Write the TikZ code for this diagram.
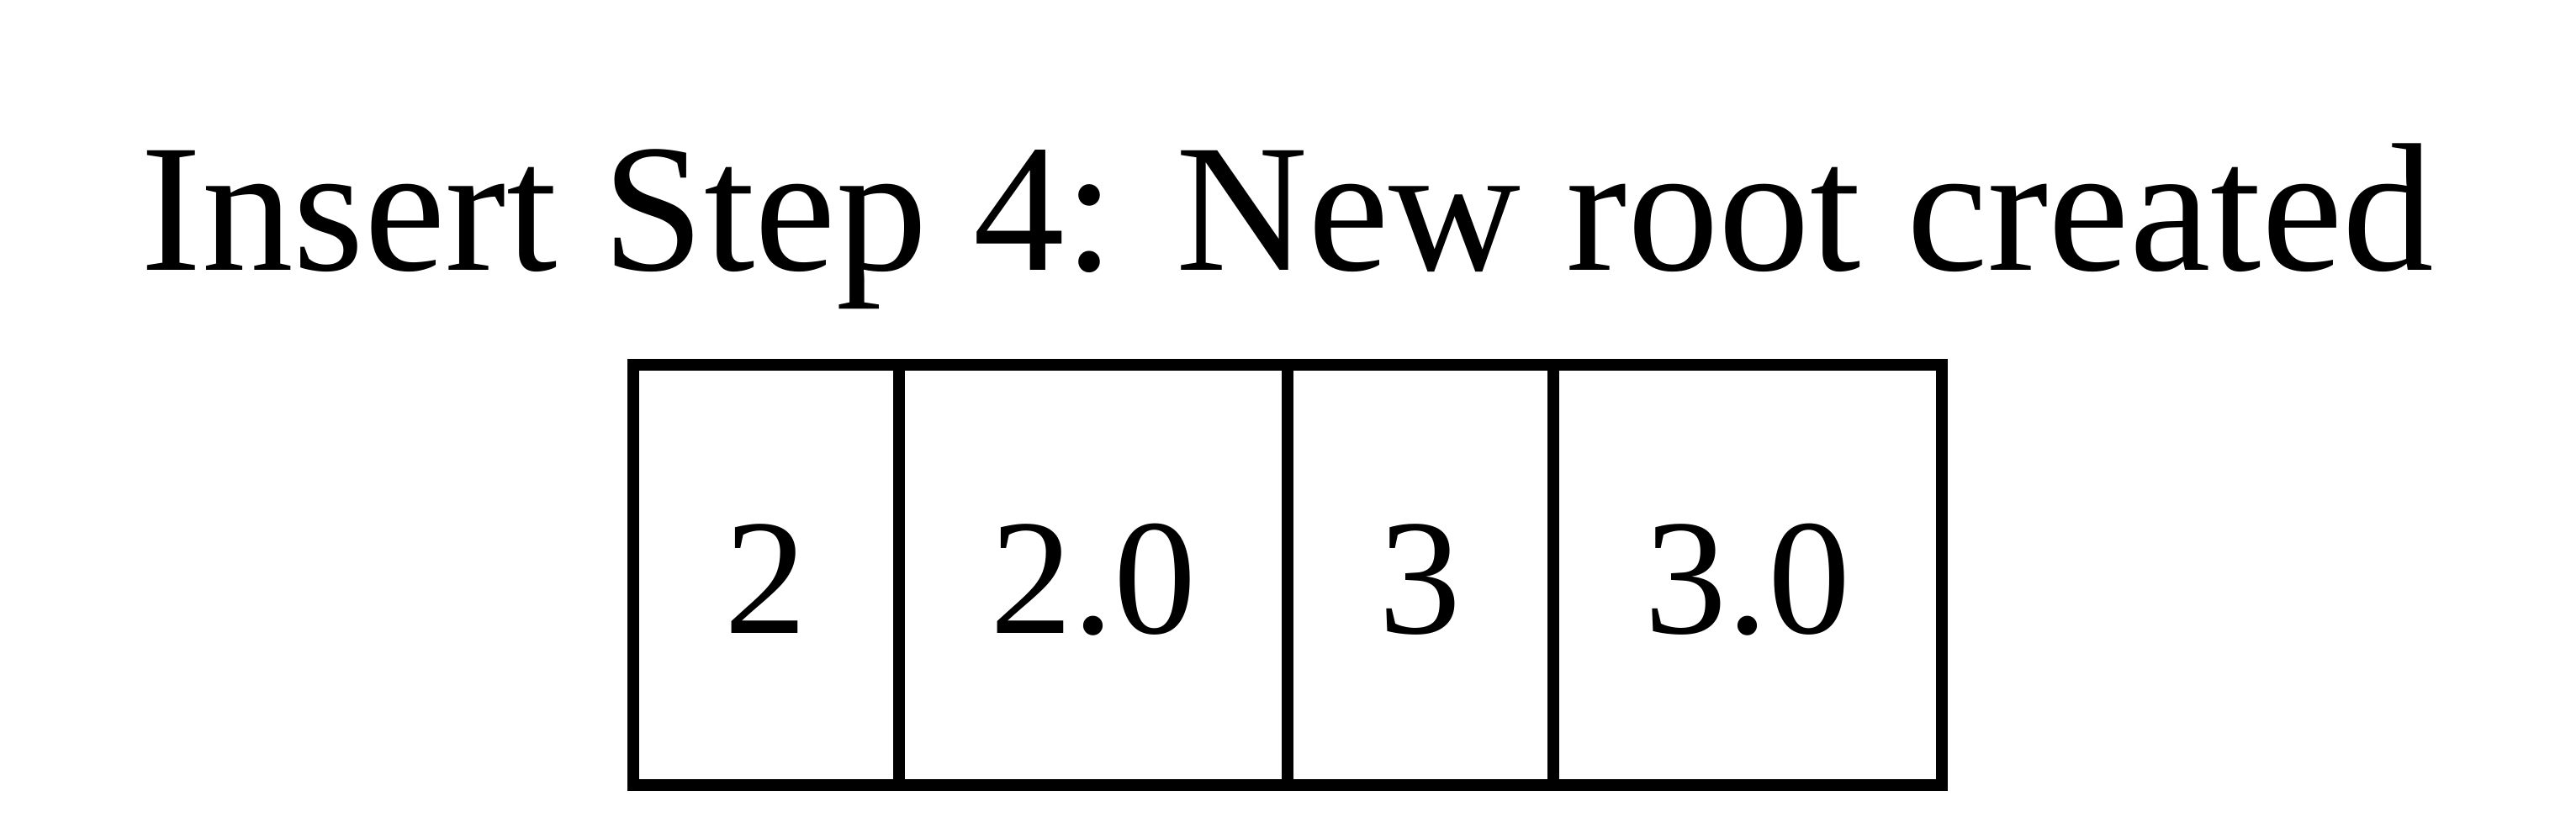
\documentclass[tikz,border=0pt]{standalone}
\usepackage{fontspec}
\setmainfont{Liberation Serif}
\begin{document}
\begin{tikzpicture}[
  cell/.style={draw=black, line width=4pt, rectangle, inner sep=0pt, outer sep=0pt,
    minimum height=5cm, text height=1.4cm, text depth=0cm,
    font=\fontsize{55.8}{60}\selectfont},
  titletext/.style={anchor=base, inner sep=0pt, font=\fontsize{61.8}{70}\selectfont}
]
\useasboundingbox (0,0) rectangle (30.63,9.97);
\node[titletext] (title) at (15.31,6.753) {Insert Step 4: New root created};
\node[cell, minimum width=3.16cm] (c1) at (9.11,3.13) {2};
\node[cell, minimum width=4.62cm] (c2) at (13.00,3.13) {2.0};
\node[cell, minimum width=3.16cm] (c3) at (16.89,3.13) {3};
\node[cell, minimum width=4.62cm] (c4) at (20.78,3.13) {3.0};
\end{tikzpicture}
\end{document}
